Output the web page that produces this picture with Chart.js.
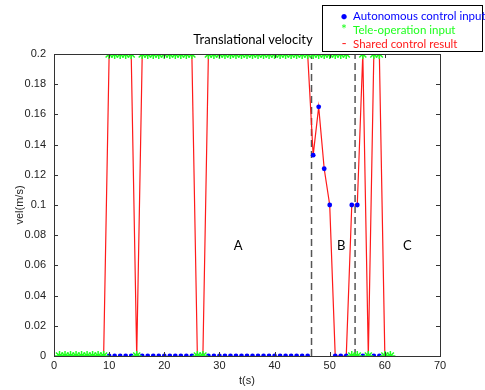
<!DOCTYPE html>
<html>
<head>
<meta charset="utf-8">
<script src="https://cdn.jsdelivr.net/npm/chart.js@4"></script>
<style>
    body { margin: 0; background: #fff; }
    #wrap { position: relative; width: 485px; height: 390px; }
    #title {
        position: absolute; left: 180px; width: 146px; top: 31px;
        text-align: center; font: 13px Lato, sans-serif; color: #000;
    }
    #legend {
        position: absolute; left: 322px; top: 5px; width: 161px; height: 47px;
        border: 1px solid #000; background: #fff;
        font: 11.5px Lato, sans-serif; line-height: 13px; padding-top: 3px; box-sizing: border-box;
    }
    #legend div { white-space: nowrap; }
    #legend span.mk { display: inline-block; width: 16px; text-align: center; margin-left: 13px; margin-right: 1px; }
</style>
</head>
<body>
<div id="wrap">
    <canvas id="velChart" width="485" height="390"></canvas>
    <div id="title">Translational velocity</div>
    <div id="legend"></div>
</div>
<script>
// Temps (s), un echantillon par seconde
const times = [1, 2, 3, 4, 5, 6, 7, 8, 9, 10, 11, 12, 13, 14, 15, 16, 17, 18, 19, 20,
    21, 22, 23, 24, 25, 26, 27, 28, 29, 30, 31, 32, 33, 34, 35, 36, 37, 38, 39, 40,
    41, 42, 43, 44, 45, 46, 47, 48, 49, 50, 51, 52, 53, 54, 55, 56, 57, 58, 59, 60, 61];

// Entree autonome (null = pas de valeur)
const autonomousInput = [null, null, null, null, null, null, null, null, null, 0, 0, 0, 0, 0, 0, 0, 0, 0, 0, 0,
    0, 0, 0, 0, 0, 0, 0, 0, 0, 0, 0, 0, 0, 0, 0, 0, 0, 0, 0, 0,
    0, 0, 0, 0, 0, 0, 0.133, 0.165, 0.124, 0.1, 0, 0, 0, 0.1, 0.1, 0, 0, 0, 0, 0, null];

// Entree teleoperation
const teleopInput = [0, 0, 0, 0, 0, 0, 0, 0, 0, 0.2, 0.2, 0.2, 0.2, 0.2, 0, 0.2, 0.2, 0.2, 0.2, 0.2,
    0.2, 0.2, 0.2, 0.2, 0.2, 0, 0, 0.2, 0.2, 0.2, 0.2, 0.2, 0.2, 0.2, 0.2, 0.2, 0.2, 0.2, 0.2, 0.2,
    0.2, 0.2, 0.2, 0.2, 0.2, 0.2, 0.2, 0.2, 0.2, 0.2, 0.2, 0.2, 0.2, 0, 0, 0.2, 0, 0.2, 0.2, 0, 0];

// Resultat du controle partage
const sharedResult = [0, 0, 0, 0, 0, 0, 0, 0, 0, 0.2, 0.2, 0.2, 0.2, 0.2, 0, 0.2, 0.2, 0.2, 0.2, 0.2,
    0.2, 0.2, 0.2, 0.2, 0.2, 0, 0, 0.2, 0.2, 0.2, 0.2, 0.2, 0.2, 0.2, 0.2, 0.2, 0.2, 0.2, 0.2, 0.2,
    0.2, 0.2, 0.2, 0.2, 0.2, 0.2, 0.133, 0.165, 0.124, 0.1, 0, 0, 0, 0.1, 0.1, 0.2, 0, 0.2, 0.2, 0, null];

// Limites des zones A / B / C
const boundaryTimes = [46.7, 54.6];
const regionNames = ['A', 'B', 'C'];
const regionTimes = [33.4, 52.1, 64.1];
const regionValues = [0.073, 0.073, 0.073];

const xTicks = [0, 10, 20, 30, 40, 50, 60, 70];
const yTicks = [0, 0.02, 0.04, 0.06, 0.08, 0.1, 0.12, 0.14, 0.16, 0.18, 0.2];

const blue = '#0000ff';
const green = '#1eff1e';
const red = '#ff1a1a';

function toPoints(values) {
    return times.map((t, i) => ({ x: t, y: values[i] }));
}

// Legende HTML
const legendItems = [
    { mark: '●', color: blue, text: 'Autonomous control input', size: '11px' },
    { mark: '*', color: green, text: 'Tele-operation input', size: '14px' },
    { mark: '-', color: red, text: 'Shared control result', size: '14px' }
];
const legend = document.getElementById('legend');
legendItems.forEach(item => {
    const row = document.createElement('div');
    row.innerHTML = '<span class="mk" style="color:' + item.color + ';font-size:' + item.size + '">' + item.mark +
        '</span><span style="color:' + item.color + '">' + item.text + '</span>';
    legend.appendChild(row);
});

// Cadre, graduations interieures et lettres des zones
const boxPlugin = {
    id: 'boxPlugin',
    afterDraw(chart) {
        const ctx = chart.ctx;
        const area = chart.chartArea;
        const xs = chart.scales.x;
        const ys = chart.scales.y;
        ctx.save();
        ctx.strokeStyle = '#333';
        ctx.lineWidth = 1;
        ctx.strokeRect(Math.round(area.left) + 0.5, Math.round(area.top) + 0.5,
            Math.round(area.right - area.left), Math.round(area.bottom - area.top));
        ctx.beginPath();
        xTicks.forEach(v => {
            const px = Math.round(xs.getPixelForValue(v)) + 0.5;
            ctx.moveTo(px, area.bottom); ctx.lineTo(px, area.bottom - 4);
            ctx.moveTo(px, area.top); ctx.lineTo(px, area.top + 4);
        });
        yTicks.forEach(v => {
            const py = Math.round(ys.getPixelForValue(v)) + 0.5;
            ctx.moveTo(area.left, py); ctx.lineTo(area.left + 4, py);
            ctx.moveTo(area.right, py); ctx.lineTo(area.right - 4, py);
        });
        ctx.stroke();

        ctx.fillStyle = '#000';
        ctx.font = '13px Lato, sans-serif';
        ctx.textAlign = 'center';
        ctx.textBaseline = 'middle';
        regionNames.forEach((name, i) => {
            ctx.fillText(name, xs.getPixelForValue(regionTimes[i]), ys.getPixelForValue(regionValues[i]));
        });
        ctx.restore();
    }
};

const boundaryDatasets = boundaryTimes.map(t => ({
    label: 'limite',
    data: [{ x: t, y: 0 }, { x: t, y: 0.2 }],
    showLine: true,
    borderColor: '#555',
    borderWidth: 1.5,
    borderDash: [7, 4],
    pointRadius: 0,
    order: 4
}));

new Chart(document.getElementById('velChart').getContext('2d'), {
    type: 'scatter',
    data: {
        datasets: [
            {
                label: 'Shared control result',
                data: toPoints(sharedResult),
                showLine: true,
                borderColor: red,
                borderWidth: 1.2,
                pointRadius: 0,
                spanGaps: false,
                order: 3
            },
            ...boundaryDatasets,
            {
                label: 'Autonomous control input',
                data: toPoints(autonomousInput),
                showLine: false,
                pointStyle: 'circle',
                pointRadius: 2.4,
                backgroundColor: blue,
                borderColor: blue,
                borderWidth: 0,
                order: 2
            },
            {
                label: 'Tele-operation input',
                data: toPoints(teleopInput),
                showLine: false,
                pointStyle: 'star',
                pointRadius: 5,
                borderColor: green,
                backgroundColor: green,
                borderWidth: 1.5,
                order: 1
            }
        ]
    },
    options: {
        responsive: false,
        animation: false,
        layout: { padding: { top: 54, right: 45, left: 0, bottom: 0 } },
        plugins: {
            legend: { display: false },
            tooltip: { enabled: false },
            title: { display: false }
        },
        scales: {
            x: {
                type: 'linear',
                min: 0,
                max: 70,
                afterBuildTicks: scale => { scale.ticks = xTicks.map(v => ({ value: v })); },
                afterFit: scale => { scale.height = 34; },
                grid: { display: false, drawTicks: false },
                border: { display: false },
                ticks: {
                    padding: 3,
                    color: '#222',
                    font: { family: 'Liberation Sans', size: 11 }
                },
                title: {
                    display: true,
                    text: 't(s)',
                    color: '#222',
                    font: { family: 'Liberation Sans', size: 11 },
                    padding: { top: 0, bottom: 2 }
                }
            },
            y: {
                type: 'linear',
                min: 0,
                max: 0.2,
                afterBuildTicks: scale => { scale.ticks = yTicks.map(v => ({ value: v })); },
                afterFit: scale => { scale.width = 54; },
                grid: { display: false, drawTicks: false },
                border: { display: false },
                ticks: {
                    padding: 8,
                    color: '#222',
                    font: { family: 'Liberation Sans', size: 11 },
                    callback: v => String(parseFloat(v.toFixed(2)))
                },
                title: {
                    display: true,
                    text: 'vel(m/s)',
                    color: '#222',
                    font: { family: 'Liberation Sans', size: 11 },
                    padding: { top: 13, bottom: 0 }
                }
            }
        }
    },
    plugins: [boxPlugin]
});
</script>
</body>
</html>
